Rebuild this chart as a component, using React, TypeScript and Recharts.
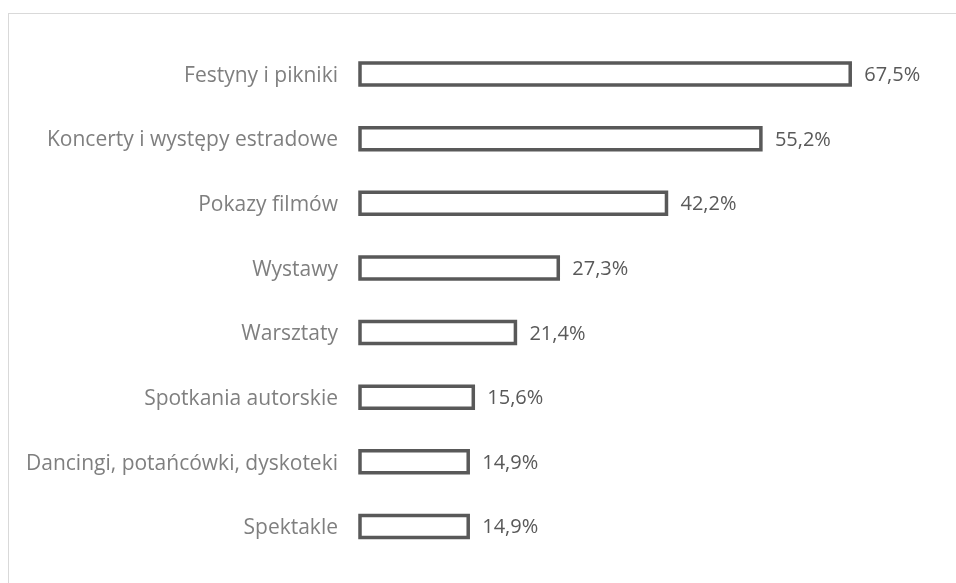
import { BarChart, Bar, XAxis, YAxis, LabelList } from 'recharts';

const categories = [
  'Festyny i pikniki',
  'Koncerty i występy estradowe',
  'Pokazy filmów',
  'Wystawy',
  'Warsztaty',
  'Spotkania autorskie',
  'Dancingi, potańcówki, dyskoteki',
  'Spektakle',
];
const shares = [67.5, 55.2, 42.2, 27.3, 21.4, 15.6, 14.9, 14.9];

const data = categories.map((name, i) => ({ name, value: shares[i] }));

const FONT = '"Open Sans", sans-serif';

export default function App() {
  return (
    <div
      style={{
        position: 'fixed',
        top: 13,
        left: 8,
        width: 948,
        height: 570,
        borderTop: '1px solid #d9d9d9',
        borderLeft: '1px solid #d9d9d9',
        overflow: 'hidden',
      }}
    >
      <BarChart
        width={947}
        height={569}
        data={data}
        layout="vertical"
        margin={{ top: 28, right: 15, left: 0, bottom: 24 }}
      >
        <XAxis type="number" domain={[0, 80]} hide />
        <YAxis
          type="category"
          dataKey="name"
          width={351}
          axisLine={false}
          tickLine={false}
          tickSize={0}
          tickMargin={22}
          tick={{ fontSize: 21, fill: '#7f7f7f', fontFamily: FONT }}
        />
        <Bar
          dataKey="value"
          fill="#ffffff"
          stroke="#595959"
          strokeWidth={3.5}
          barSize={22}
          isAnimationActive={false}
        >
          <LabelList
            dataKey="value"
            position="right"
            offset={14}
            formatter={(v: number) => `${v.toFixed(1).replace('.', ',')}%`}
            style={{ fontSize: 20, fill: '#595959', fontFamily: FONT }}
          />
        </Bar>
      </BarChart>
    </div>
  );
}
